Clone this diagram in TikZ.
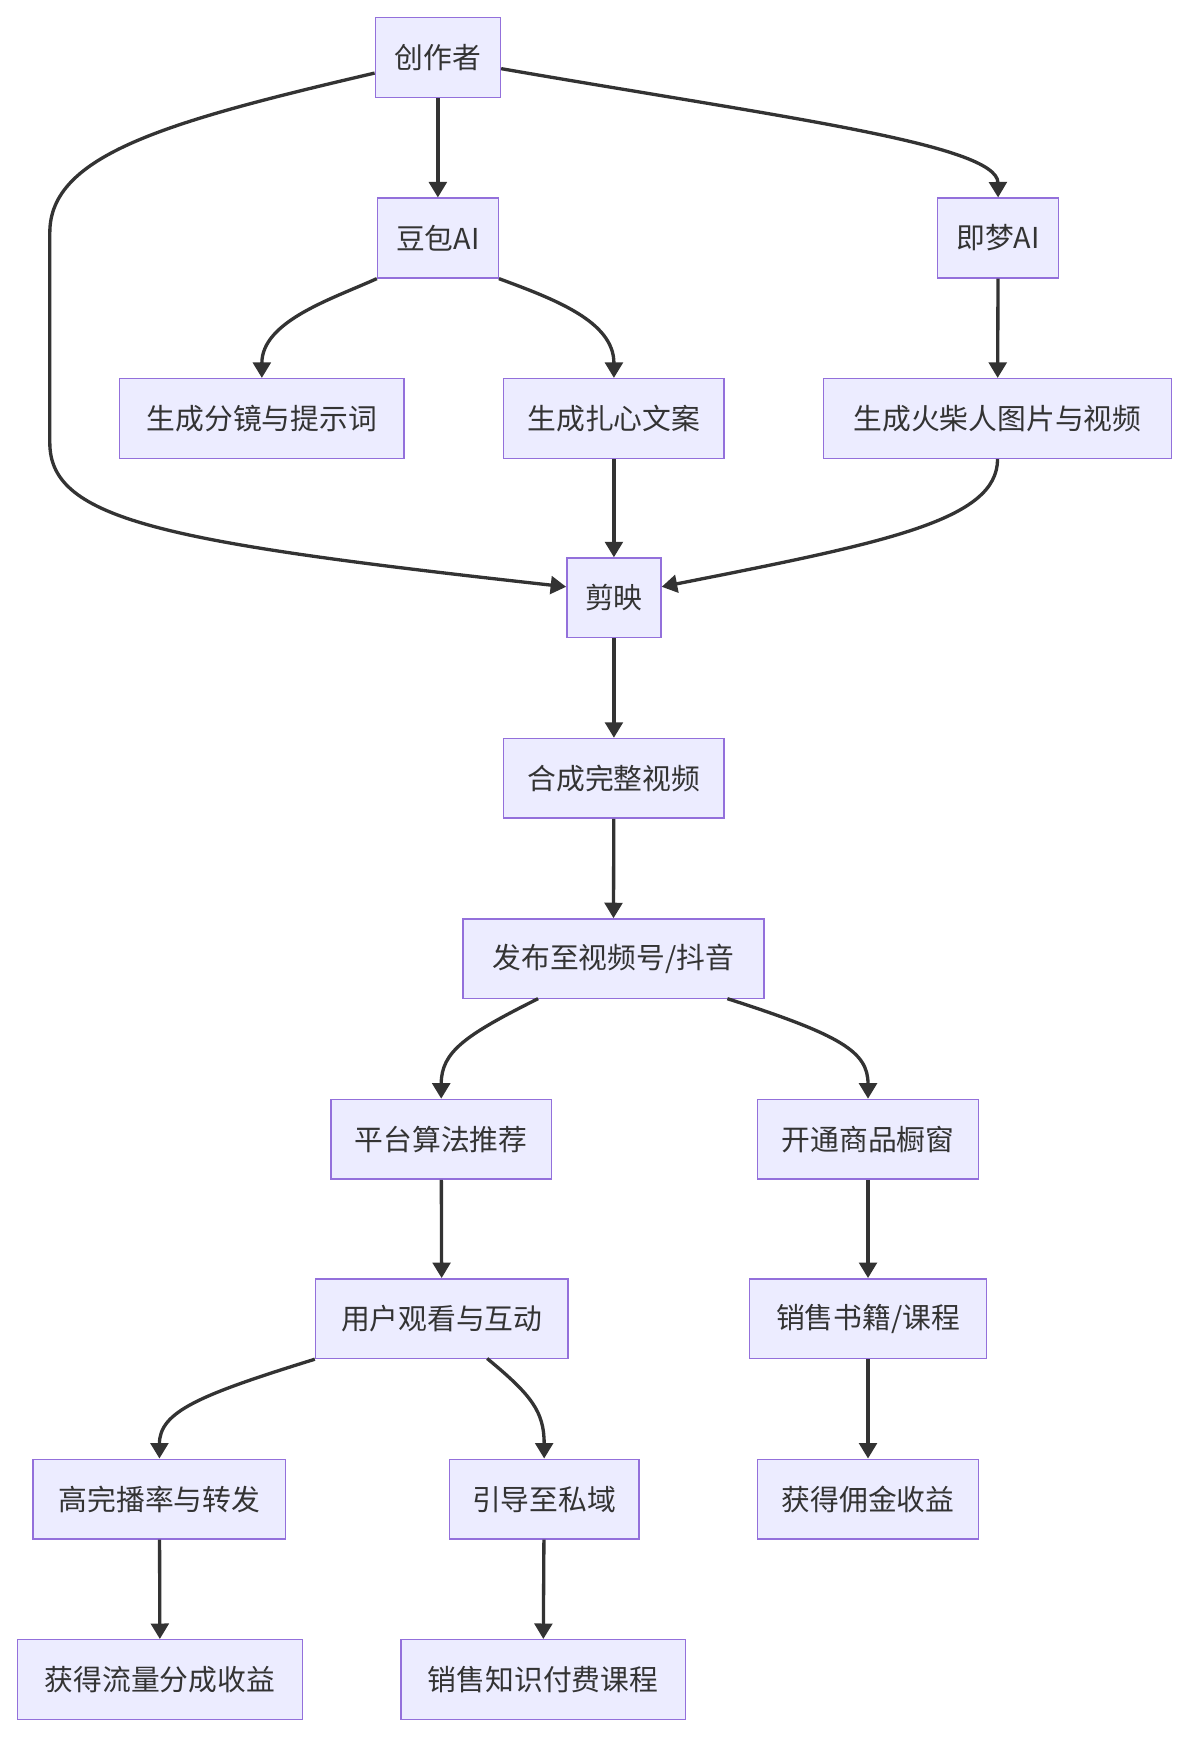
\documentclass[tikz,border=0pt]{standalone}
\usepackage{fontspec}
\setmainfont{Noto Sans CJK SC}
\usetikzlibrary{arrows.meta}
\begin{document}
\begin{tikzpicture}[x=1pt,y=-1pt,
  box/.style={draw=violet!60!purple!70!white,draw={rgb,255:red,147;green,112;blue,219},fill={rgb,255:red,236;green,236;blue,255},line width=1.3pt,minimum height=72pt,inner sep=0pt,font=\fontsize{26}{30}\selectfont,text={rgb,255:red,51;green,51;blue,51}},
  arr/.style={draw={rgb,255:red,51;green,51;blue,51},line width=3pt,-{Triangle[length=14pt,width=16pt]}}]
\useasboundingbox (0,0) rectangle (1080,1577);
\node[box,minimum width=113pt] (a) at (395.5,52) {创作者};
\node[box,minimum width=109pt] (b) at (395.5,215) {豆包AI};
\node[box,minimum width=109pt] (c) at (901.5,215) {即梦AI};
\node[box,minimum width=257pt] (d) at (236.5,378) {生成分镜与提示词};
\node[box,minimum width=199pt] (e) at (554.5,378) {生成扎心文案};
\node[box,minimum width=314pt] (f) at (901,378) {生成火柴人图片与视频};
\node[box,minimum width=85pt] (g) at (554.5,540) {剪映};
\node[box,minimum width=199pt] (h) at (554.5,703) {合成完整视频};
\node[box,minimum width=272pt] (i) at (554,866) {发布至视频号/抖音};
\node[box,minimum width=199pt] (j) at (398.5,1029) {平台算法推荐};
\node[box,minimum width=200pt] (k) at (784,1029) {开通商品橱窗};
\node[box,minimum width=228pt] (l) at (399,1191) {用户观看与互动};
\node[box,minimum width=214pt] (m) at (784,1191) {销售书籍/课程};
\node[box,minimum width=228pt] (n) at (144,1354) {高完播率与转发};
\node[box,minimum width=171pt] (o) at (491.5,1354) {引导至私域};
\node[box,minimum width=200pt] (p) at (784,1354) {获得佣金收益};
\node[box,minimum width=257pt] (q) at (144.5,1517) {获得流量分成收益};
\node[box,minimum width=257pt] (r) at (490.5,1517) {销售知识付费课程};
\draw[arr] (a) -- (b);
\draw[arr] (a.west|-395.5,66) .. controls (150,110) and (45,140) .. (45,210) -- (45,400) .. controls (45,470) and (150,490) .. (g.west|-0,530);
\draw[arr] (a.east|-0,62) .. controls (700,105) and (901,130) .. (c.north);
\draw[arr] (b.south west) .. controls (300,270) and (236.5,290) .. (d.north);
\draw[arr] (b.south east) .. controls (500,270) and (554.5,290) .. (e.north);
\draw[arr] (c) -- (f);
\draw[arr] (e) -- (g);
\draw[arr] (f.south) .. controls (901,470) and (800,490) .. (g.east|-0,530);
\draw[arr] (g) -- (h);
\draw[arr] (h) -- (i);
\draw[arr] (486,902) .. controls (420,935) and (398.5,950) .. (j.north);
\draw[arr] (657,902) .. controls (760,935) and (784,950) .. (k.north);
\draw[arr] (j) -- (l);
\draw[arr] (k) -- (m);
\draw[arr] (l.south west) .. controls (180,1260) and (144,1275) .. (n.north);
\draw[arr] (440,1227) .. controls (480,1260) and (491.5,1275) .. (o.north);
\draw[arr] (m) -- (p);
\draw[arr] (n) -- (q);
\draw[arr] (o) -- (r);
\end{tikzpicture}
\end{document}
